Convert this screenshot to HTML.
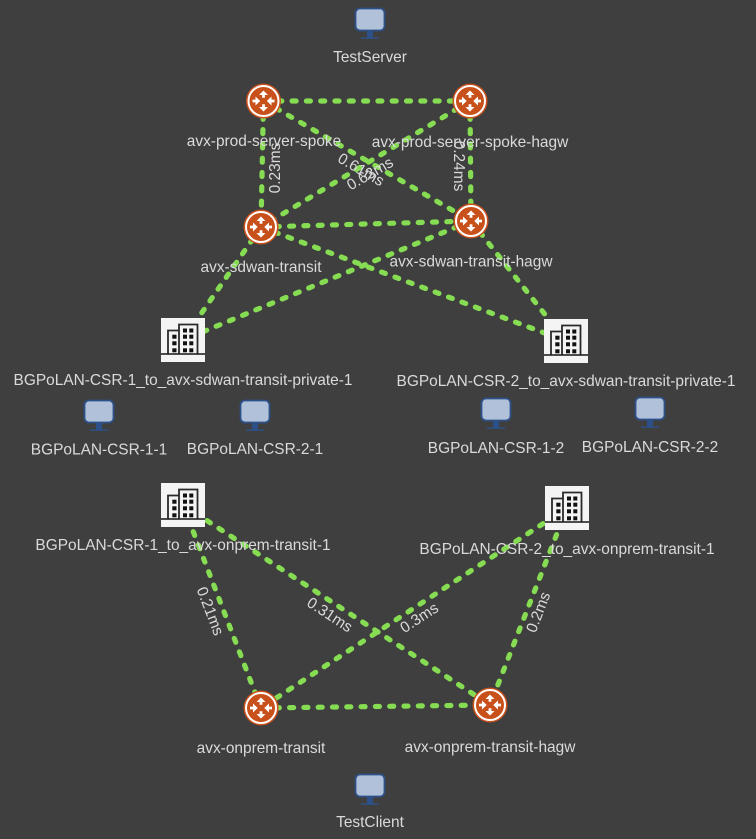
<!DOCTYPE html>
<html><head><meta charset="utf-8">
<style>
html,body{margin:0;padding:0;background:#3f3f3f;width:756px;height:839px;overflow:hidden}
svg{display:block}
text{font-family:"Liberation Sans",sans-serif;font-size:15.45px;fill:#dadada;text-anchor:middle}
.e{stroke:#86dc52;stroke-width:5.2;stroke-linecap:round;stroke-dasharray:4 10.3;fill:none}
</style></head><body>
<svg width="756" height="839" viewBox="0 0 756 839" xmlns="http://www.w3.org/2000/svg">
<defs>
<g id="r">
<circle r="17.5" fill="#c8501a"/>
<circle r="15" fill="none" stroke="#fff" stroke-width="2"/>
<g fill="#fff">
<path d="M0-10.5 4.5-6H1.4V-3.3H-1.4V-6H-4.5Z"/>
<path d="M0 10.5 4.5 6H1.4V3.3H-1.4V6H-4.5Z"/>
<path d="M-3.3 0-8-4.5V-1.4H-11V1.4H-8V4.5Z"/>
<path d="M3.3 0 8-4.5V-1.4H11V1.4H8V4.5Z"/>
</g>
</g>
<g id="m">
<rect x="-14.5" y="-13.5" width="29" height="22" rx="4.5" fill="#b0c1d9" stroke="#2d5088" stroke-width="1.8"/>
<rect x="-3" y="9" width="6" height="7" fill="#2d5088"/>
<rect x="-9" y="15.5" width="18" height="1.4" fill="#2d5088"/>
</g>
<g id="b">
<rect x="-22" y="-22" width="44" height="44" fill="#f4f4f4"/>
<path d="M-15 14V-9.5H-4V14M-4 14V-15.5H14.5V14" fill="#f4f4f4" stroke="#2a2a2a" stroke-width="1.8"/>
<rect x="-22" y="13.2" width="44" height="1.6" fill="#222"/>
<g fill="#111">
<rect x="-10.7" y="-5.3" width="4.2" height="4"/><rect x="-10.7" y="1.3" width="4.2" height="4"/><rect x="-10.7" y="8.3" width="4.2" height="4"/>
<rect x="0" y="-11.5" width="4" height="4"/><rect x="6.3" y="-11.5" width="4" height="4"/>
<rect x="0" y="-5.3" width="4" height="4"/><rect x="6.3" y="-5.3" width="4" height="4"/>
<rect x="0" y="1.3" width="4" height="4"/><rect x="6.3" y="1.3" width="4" height="4"/>
<rect x="0" y="8.3" width="4" height="4"/><rect x="6.3" y="8.3" width="4" height="4"/>
</g>
</g>
</defs>

<!-- connectors -->
<line class="e" x1="263.5" y1="101" x2="470" y2="101"/>
<line class="e" x1="263.5" y1="101" x2="261" y2="227"/>
<line class="e" x1="263.5" y1="101" x2="471" y2="221"/>
<line class="e" x1="470" y1="101" x2="261" y2="227"/>
<line class="e" x1="470" y1="101" x2="471" y2="221"/>
<line class="e" x1="261" y1="227" x2="471" y2="221"/>
<line class="e" x1="261" y1="227" x2="183" y2="340"/>
<line class="e" x1="261" y1="227" x2="566" y2="341"/>
<line class="e" x1="471" y1="221" x2="183" y2="340"/>
<line class="e" x1="471" y1="221" x2="566" y2="341"/>
<line class="e" x1="183" y1="505" x2="261" y2="708"/>
<line class="e" x1="183" y1="505" x2="490" y2="705"/>
<line class="e" x1="567" y1="508" x2="261" y2="708"/>
<line class="e" x1="567" y1="508" x2="490" y2="705"/>
<line class="e" x1="261" y1="708" x2="490" y2="705"/>

<!-- nodes -->
<use href="#m" x="370" y="22"/>
<use href="#m" x="99" y="414"/>
<use href="#m" x="255" y="414"/>
<use href="#m" x="496" y="412"/>
<use href="#m" x="650" y="411"/>
<use href="#m" x="370" y="788"/>

<use href="#r" x="263.5" y="101"/>
<use href="#r" x="470" y="101"/>
<use href="#r" x="261" y="227"/>
<use href="#r" x="471" y="221"/>
<use href="#r" x="261" y="708"/>
<use href="#r" x="490" y="705"/>

<use href="#b" x="183" y="340"/>
<use href="#b" x="566" y="341"/>
<use href="#b" x="183" y="505"/>
<use href="#b" x="567" y="508"/>

<!-- labels -->
<text x="370" y="62">TestServer</text>
<text x="264" y="146">avx-prod-server-spoke</text>
<text x="470" y="147">avx-prod-server-spoke-hagw</text>
<text x="261" y="272">avx-sdwan-transit</text>
<text x="471" y="266.5">avx-sdwan-transit-hagw</text>
<text x="183" y="385">BGPoLAN-CSR-1_to_avx-sdwan-transit-private-1</text>
<text x="566" y="386">BGPoLAN-CSR-2_to_avx-sdwan-transit-private-1</text>
<text x="99" y="454.5">BGPoLAN-CSR-1-1</text>
<text x="255" y="454">BGPoLAN-CSR-2-1</text>
<text x="496" y="453">BGPoLAN-CSR-1-2</text>
<text x="650" y="452">BGPoLAN-CSR-2-2</text>
<text x="183" y="550">BGPoLAN-CSR-1_to_avx-onprem-transit-1</text>
<text x="567" y="554">BGPoLAN-CSR-2_to_avx-onprem-transit-1</text>
<text x="261" y="753">avx-onprem-transit</text>
<text x="490" y="752">avx-onprem-transit-hagw</text>
<text x="370" y="827">TestClient</text>

<text transform="translate(280,168) rotate(-90)">0.23ms</text>
<text transform="translate(454,166) rotate(90)">0.24ms</text>
<text transform="translate(358.5,174) rotate(30)">0.61ms</text>
<text transform="translate(372.5,178) rotate(-30)">0.63ms</text>
<text transform="translate(205.5,613) rotate(69)">0.21ms</text>
<text transform="translate(327,619) rotate(33)">0.31ms</text>
<text transform="translate(422,622) rotate(-33)">0.3ms</text>
<text transform="translate(543,614) rotate(-69)">0.2ms</text>
</svg>
</body></html>
